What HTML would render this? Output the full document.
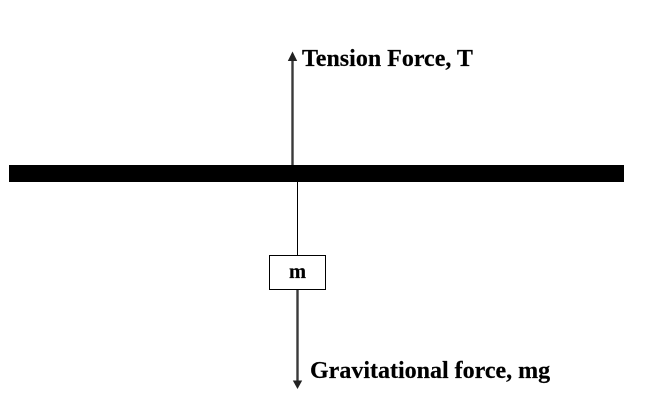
<!DOCTYPE html>
<html>
<head>
<meta charset="utf-8">
<style>
html,body{margin:0;padding:0;background:#fff;width:654px;height:409px;overflow:hidden}
svg{display:block}
text{font-family:"Liberation Serif",serif;font-weight:bold;fill:#000;stroke:#000;stroke-width:0.2}
</style>
</head>
<body>
<svg width="654" height="409" viewBox="0 0 654 409" xmlns="http://www.w3.org/2000/svg">
<rect x="9" y="165" width="615" height="17" fill="#000"/>
<rect x="291.300" y="58" width="2.400" height="107" fill="#3a3a3a"/>
<polygon points="292.500,51.500 297.200,61 287.800,61" fill="#222"/>
<rect x="297" y="182" width="1" height="73" fill="#000"/>
<rect x="269.500" y="255.500" width="56" height="34" fill="#fff" stroke="#000" stroke-width="1"/>
<rect x="296.300" y="290" width="2.400" height="93" fill="#3a3a3a"/>
<polygon points="297.500,389 292.800,380.500 302.200,380.500" fill="#222"/>
<text x="302" y="66" font-size="24">Tension Force, T</text>
<text x="289" y="278" font-size="20.500">m</text>
<text x="310" y="378" font-size="24">Gravitational force, mg</text>
</svg>
</body>
</html>
